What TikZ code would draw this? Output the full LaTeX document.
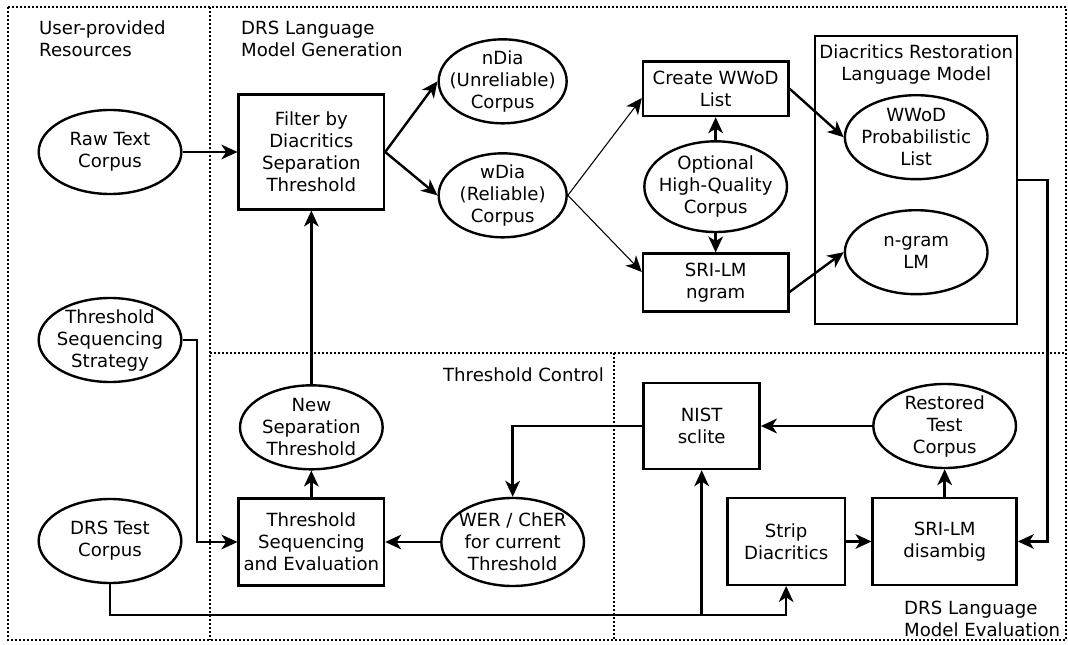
\documentclass[tikz,border=0pt]{standalone}
\usepackage{fontspec}
\setmainfont{DejaVu Sans}
\usetikzlibrary{arrows.meta,positioning,shapes.geometric}
\tikzset{>/.tip={Stealth[length=12pt,width=11pt,inset=3.5pt]}}
\tikzset{corpus/.style={draw,ellipse,inner sep=-12pt,align=center,minimum width=107pt,minimum height=63pt}}
\tikzset{tool/.style={draw,rectangle,inner sep=0pt,align=center,minimum width=109pt}}
\tikzset{region/.style={line width=1.5pt,dash pattern=on 1.5pt off 1.5pt}}
\tikzset{title/.style={inner sep=0pt,align=left}}

\begin{document}
\begin{tikzpicture}[x=0.75pt,y=-0.75pt,on grid,font=\fontsize{13.6}{16.5}\selectfont,line width=1.8pt]
  \useasboundingbox (0,0) rectangle (1068,645);

  % the four areas
  \draw[region] (8,7) rectangle (1066,640);
  \draw[region] (210,7) -- (210,640);
  \draw[region] (210,353) -- (1066,353);
  \draw[region] (614,353) -- (614,640);
  \node[title,anchor=north west] (resources) at (38,20) {User-provided\\Resources};
  \node[title,anchor=north west] (generation) at (240,20) {DRS Language\\Model Generation};
  \node[title,anchor=base east] (control) at (605,382) {Threshold Control};
  \node[title,anchor=north west] (evaluation) at (903,600) {DRS Language\\Model Evaluation};

  % user-provided resources
  \node[corpus] (raw) at (110,152) {Raw Text\\Corpus};
  \node[corpus,below=141pt of raw] (strat) {Threshold\\Sequencing\\Strategy};
  \node[corpus,below=150.75pt of strat] (test) {DRS Test\\Corpus};

  % language model generation
  \node[tool,minimum height=86pt,right=151pt of raw] (filter) {Filter by\\Diacritics\\Separation\\Threshold};
  \node[corpus,minimum width=96pt,above right=53pt and 143.5pt of filter] (ndia) {nDia\\(Unreliable)\\Corpus};
  \node[corpus,minimum width=96pt,below=85.5pt of ndia] (wdia) {wDia\\(Reliable)\\Corpus};
  \node[tool,minimum height=41pt,below right=5.5pt and 159.75pt of ndia] (create) {Create WWoD\\List};
  \node[corpus,minimum height=68pt,below=73.5pt of create] (hq) {Optional\\High-Quality\\Corpus};
  \node[tool,minimum height=43.5pt,below=72pt of hq] (srilm) {SRI-LM\\ngram};
  \node[corpus,below right=36.4pt and 150.4pt of create] (wwod) {WWoD\\Probabilistic\\List};
  \node[corpus,below=86.25pt of wwod] (ngram) {n-gram\\LM};
  \node[tool,minimum width=151.5pt,minimum height=216pt,below=32.25pt of wwod] (drlm) {};
  \node[title,align=center,anchor=north] (drlmlabel) at ([yshift=-6.5pt]drlm.north) {Diacritics Restoration\\Language Model};

  % threshold control
  \node[tool,minimum height=65pt,below=292.5pt of filter] (tseq) {Threshold\\Sequencing\\and Evaluation};
  \node[corpus,above=86pt of tseq] (newsep) {New\\Separation\\Threshold};
  \node[corpus,minimum height=66pt,right=151pt of tseq] (wer) {WER / ChER\\for current\\Threshold};

  % evaluation
  \node[tool,minimum width=87pt,minimum height=64.5pt,above right=87pt and 141.75pt of wer] (nist) {NIST\\sclite};
  \node[corpus,right=182.25pt of nist] (restored) {Restored\\Test\\Corpus};
  \node[tool,minimum width=108pt,minimum height=65pt,below=86.6pt of restored] (disamb) {SRI-LM\\disambig};
  \node[tool,minimum width=88pt,minimum height=65pt,left=118.9pt of disamb] (strip) {Strip\\Diacritics};
  \coordinate[below=23.25pt of test.south] (bus);

  \draw[->] (raw) -- (filter);
  \draw[->] (filter.east) -- (ndia.west);
  \draw[->] (filter.east) -- (wdia.west);
  \draw[->,line width=0.8pt] (wdia.east) -- ([yshift=-7pt]create.west);
  \draw[->,line width=0.8pt] (wdia.east) -- ([yshift=8pt]srilm.west);
  \draw[->] (hq) -- (create);
  \draw[->] (hq) -- (srilm);
  \draw[->] (create.east) -- (wwod.west);
  \draw[->] ([yshift=-7pt]srilm.east) -- (ngram.west);
  \draw[->] (drlm.east) -- ++(21.75pt,0) |- (disamb.east);
  \draw[->] (strat.east) -- ++(11pt,0) |- (tseq.west);
  \draw[->] (wer) -- (tseq);
  \draw[->] (tseq) -- (newsep);
  \draw[->] (newsep) -- (filter);
  \draw[->] (nist.west) -| (wer.north);
  \draw[->] (restored) -- (nist);
  \draw[->] (disamb) -- (restored);
  \draw[->] (strip) -- (disamb);
  \draw[->] (test.south) -- (bus) -| (strip.south);
  \draw[->] (nist.south |- bus) -- (nist.south);
\end{tikzpicture}
\end{document}
